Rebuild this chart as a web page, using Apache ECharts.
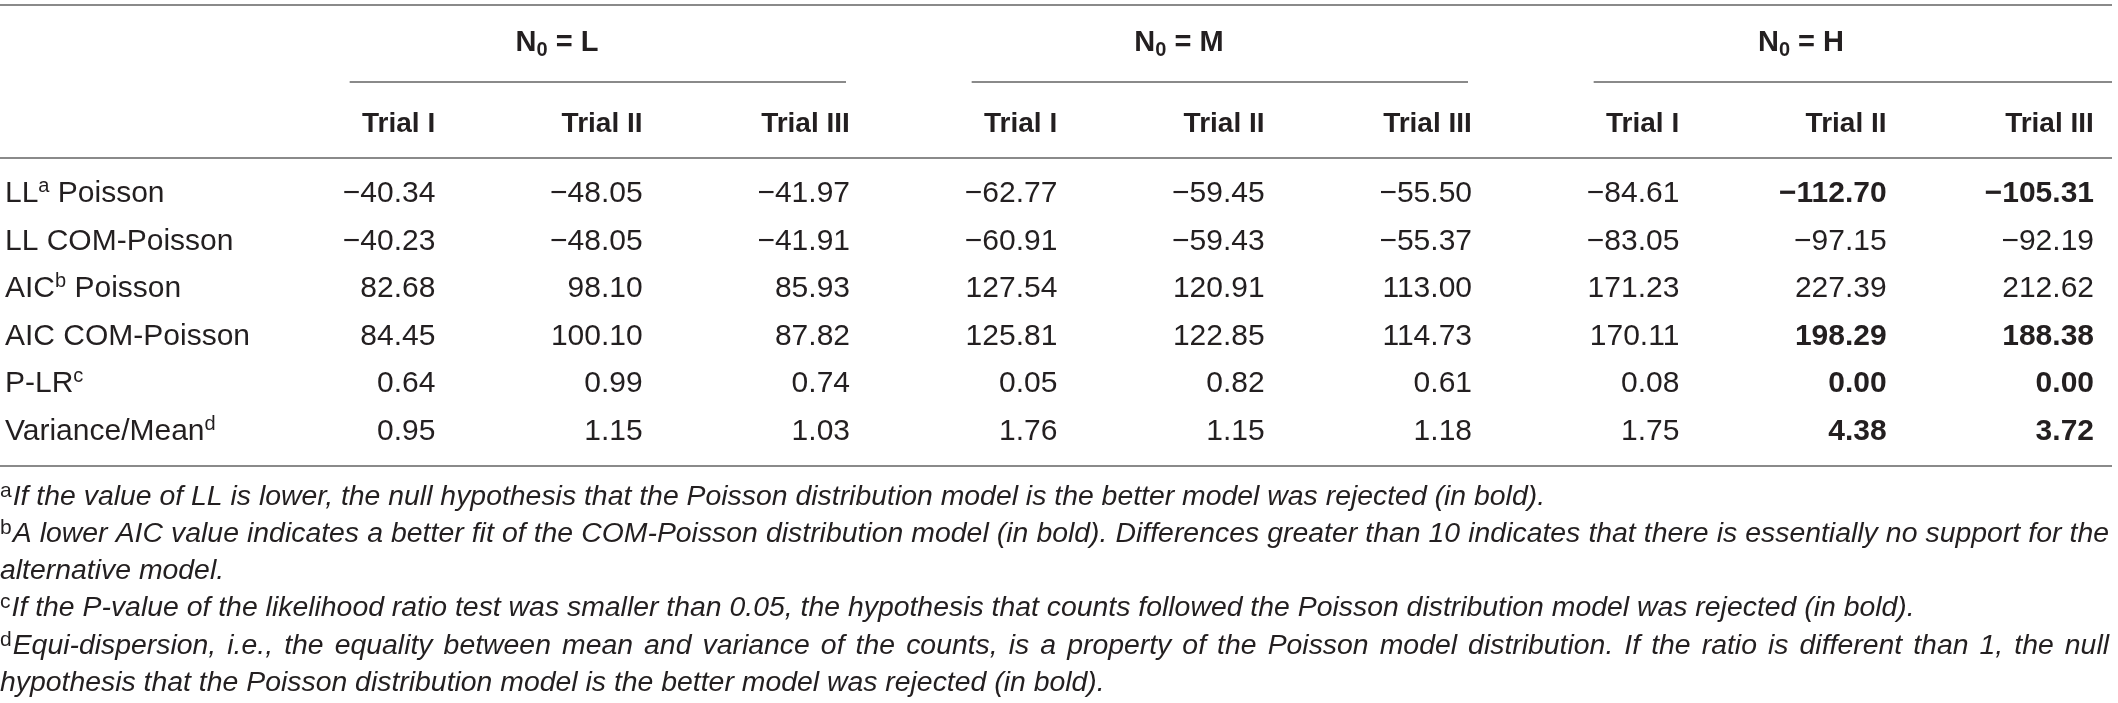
<!DOCTYPE html>
<html lang="en">
<head>
<meta charset="UTF-8">
<title>Poisson vs COM-Poisson fit</title>
<style>
  html, body { margin: 0; padding: 0; background: #fff; }
  #main { width: 2118px; height: 703px; }
</style>
</head>
<body>
<div id="main"></div>
<script src="https://cdn.jsdelivr.net/npm/echarts@6/dist/echarts.min.js"></script>
<script>
// table data
var groups = ['L', 'M', 'H'];
var trials = ['Trial I', 'Trial II', 'Trial III'];
var rowNames = ['LL Poisson', 'LL COM-Poisson', 'AIC Poisson', 'AIC COM-Poisson', 'P-LR', 'Variance/Mean'];
var rowNotes = ['a', '', 'b', '', 'c', 'd'];

var llPoisson     = [-40.34, -48.05, -41.97, -62.77, -59.45, -55.50, -84.61, -112.70, -105.31];
var llComPoisson  = [-40.23, -48.05, -41.91, -60.91, -59.43, -55.37, -83.05, -97.15, -92.19];
var aicPoisson    = [82.68, 98.10, 85.93, 127.54, 120.91, 113.00, 171.23, 227.39, 212.62];
var aicComPoisson = [84.45, 100.10, 87.82, 125.81, 122.85, 114.73, 170.11, 198.29, 188.38];
var pLR           = [0.64, 0.99, 0.74, 0.05, 0.82, 0.61, 0.08, 0.00, 0.00];
var varianceMean  = [0.95, 1.15, 1.03, 1.76, 1.15, 1.18, 1.75, 4.38, 3.72];

// [row, col] of the values printed in bold
var boldCells = [[0, 7], [0, 8], [3, 7], [3, 8], [4, 7], [4, 8], [5, 7], [5, 8]];

// [mark, text, justified]
var footnotes = [
    ['a', 'If the value of LL is lower, the null hypothesis that the Poisson distribution model is the better model was rejected (in bold).', false],
    ['b', 'A lower AIC value indicates a better fit of the COM-Poisson distribution model (in bold). Differences greater than 10 indicates that there is essentially no support for the', true],
    ['', 'alternative model.', false],
    ['c', 'If the P-value of the likelihood ratio test was smaller than 0.05, the hypothesis that counts followed the Poisson distribution model was rejected (in bold).', false],
    ['d', 'Equi-dispersion, i.e., the equality between mean and variance of the counts, is a property of the Poisson model distribution. If the ratio is different than 1, the null', true],
    ['', 'hypothesis that the Poisson distribution model is the better model was rejected (in bold).', false]
];

var FONT = '"Liberation Sans", Arial, Helvetica, sans-serif';
var INK = '#231f20';
var RULE = '#8a8a8a';
var CELL_PAD = 18;
var NOTE_SIZE = 28.4;
var SUP_SIZE = 21;
var NOTE_RIGHT = 2109;

var rows = [llPoisson, llComPoisson, aicPoisson, aicComPoisson, pLR, varianceMean];
var columns = [];
groups.forEach(function (g) {
    trials.forEach(function (t) { columns.push(g + ' ' + t); });
});

function isBold(r, c) {
    return boldCells.some(function (b) { return b[0] === r && b[1] === c; });
}

function fmt(v) {
    return v.toFixed(2).replace('-', '\u2212');
}

var cells = [];
rows.forEach(function (vals, r) {
    vals.forEach(function (v, c) {
        cells.push([c, r, v, isBold(r, c) ? 1 : 0]);
    });
});

var groupData = groups.map(function (g, i) {
    return [i * 3 + 1, 0, i * 3, i * 3 + 2];
});

// text measuring for the justified footnote lines
var ctx = document.createElement('canvas').getContext('2d');
function measure(text, font) {
    ctx.font = font;
    return ctx.measureText(text).width;
}

var noteFont = 'italic ' + NOTE_SIZE + 'px ' + FONT;

function noteText(x, y, s) {
    return {
        type: 'text', x: x, y: y,
        style: {text: s, fontSize: NOTE_SIZE, fontStyle: 'italic', fontFamily: FONT,
                fill: INK, verticalAlign: 'middle'}
    };
}

function noteLine(f, i) {
    var y = 497 + i * 37.2;
    var children = [];
    var x = 0;
    if (f[0]) {
        children.push({
            type: 'text', x: 0, y: y - 6,
            style: {text: f[0], fontSize: SUP_SIZE, fontFamily: FONT, fill: INK, verticalAlign: 'middle'}
        });
        x = measure(f[0], SUP_SIZE + 'px ' + FONT) + 1;
    }
    if (!f[2]) {
        children.push(noteText(x, y, f[1]));
    } else {
        var words = f[1].split(' ');
        var widths = words.map(function (w) { return measure(w, noteFont); });
        var total = widths.reduce(function (a, b) { return a + b; }, 0);
        var gap = (NOTE_RIGHT - x - total) / (words.length - 1);
        words.forEach(function (w, k) {
            children.push(noteText(x, y, w));
            x += widths[k] + gap;
        });
    }
    return {type: 'group', children: children};
}

function ruleLine(y) {
    return {
        type: 'line',
        shape: {x1: 0, y1: y, x2: 2112, y2: y},
        style: {stroke: RULE, lineWidth: 2}
    };
}

var myChart = echarts.init(document.getElementById('main'), null, {renderer: 'canvas'});

var option = {
    backgroundColor: '#fff',
    animation: false,
    grid: {left: 246, right: 6, top: 170, bottom: 248, containLabel: false},
    xAxis: {
        type: 'category',
        position: 'top',
        data: columns,
        axisLine: {show: false},
        axisTick: {show: false},
        splitLine: {show: false},
        axisLabel: {
            interval: 0,
            margin: 46,
            verticalAlign: 'middle',
            formatter: function (v) {
                return '{h|' + v.split(' ').slice(1).join(' ') + '}';
            },
            rich: {
                h: {width: 207 - 2 * CELL_PAD, align: 'right', fontSize: 28, fontWeight: 'bold',
                    fontFamily: FONT, color: INK}
            }
        }
    },
    yAxis: {
        type: 'category',
        inverse: true,
        data: rowNames,
        axisLine: {show: false},
        axisTick: {show: false},
        splitLine: {show: false},
        axisLabel: {
            interval: 0,
            align: 'left',
            margin: 241,
            formatter: function (v, idx) {
                var note = rowNotes[idx];
                if (!note) return '{t|' + v + '}';
                var sp = v.indexOf(' ');
                if (sp < 0) return '{t|' + v + '}{s|' + note + '}';
                return '{t|' + v.slice(0, sp) + '}{s|' + note + '}{t|' + v.slice(sp) + '}';
            },
            rich: {
                t: {fontSize: 30, fontFamily: FONT, color: INK, lineHeight: 34},
                s: {fontSize: 20, fontFamily: FONT, color: INK, verticalAlign: 'top', lineHeight: 18}
            }
        }
    },
    graphic: [ruleLine(5), ruleLine(158), ruleLine(466)].concat(footnotes.map(noteLine)),
    series: [
        {
            type: 'custom',
            name: 'cells',
            data: cells,
            encode: {x: 0, y: 1},
            renderItem: function (params, api) {
                var p = api.coord([api.value(0), api.value(1)]);
                var bw = api.size([1, 0])[0];
                var d = cells[params.dataIndex];
                return {
                    type: 'text',
                    x: p[0] + bw / 2 - CELL_PAD,
                    y: p[1],
                    style: {
                        text: fmt(d[2]),
                        align: 'right',
                        verticalAlign: 'middle',
                        fontSize: 30,
                        fontFamily: FONT,
                        fontWeight: d[3] ? 'bold' : 'normal',
                        fill: INK
                    }
                };
            }
        },
        {
            type: 'custom',
            name: 'groups',
            data: groupData,
            encode: {x: 0, y: 1},
            renderItem: function (params, api) {
                var top = params.coordSys.y;
                var bw = api.size([1, 0])[0];
                var mid = api.coord([api.value(0), 0])[0];
                var first = api.coord([api.value(2), 0])[0];
                var lastIdx = api.value(3);
                var last = api.coord([lastIdx, 0])[0];
                var x2 = lastIdx === columns.length - 1 ? last + bw / 2 : last + bw / 2 - 22;
                return {
                    type: 'group',
                    children: [
                        {
                            type: 'text',
                            x: mid,
                            y: top - 127,
                            style: {
                                text: '{n|N}{z|0}{n| = ' + groups[params.dataIndex] + '}',
                                align: 'center',
                                verticalAlign: 'middle',
                                rich: {
                                    n: {fontSize: 29, fontWeight: 'bold', fontFamily: FONT, fill: INK, lineHeight: 34},
                                    z: {fontSize: 20, fontWeight: 'bold', fontFamily: FONT, fill: INK, verticalAlign: 'bottom', lineHeight: 20}
                                }
                            }
                        },
                        {
                            type: 'line',
                            shape: {x1: first, y1: top - 88, x2: x2, y2: top - 88},
                            style: {stroke: RULE, lineWidth: 2}
                        }
                    ]
                };
            }
        }
    ]
};

myChart.setOption(option);
</script>
</body>
</html>
